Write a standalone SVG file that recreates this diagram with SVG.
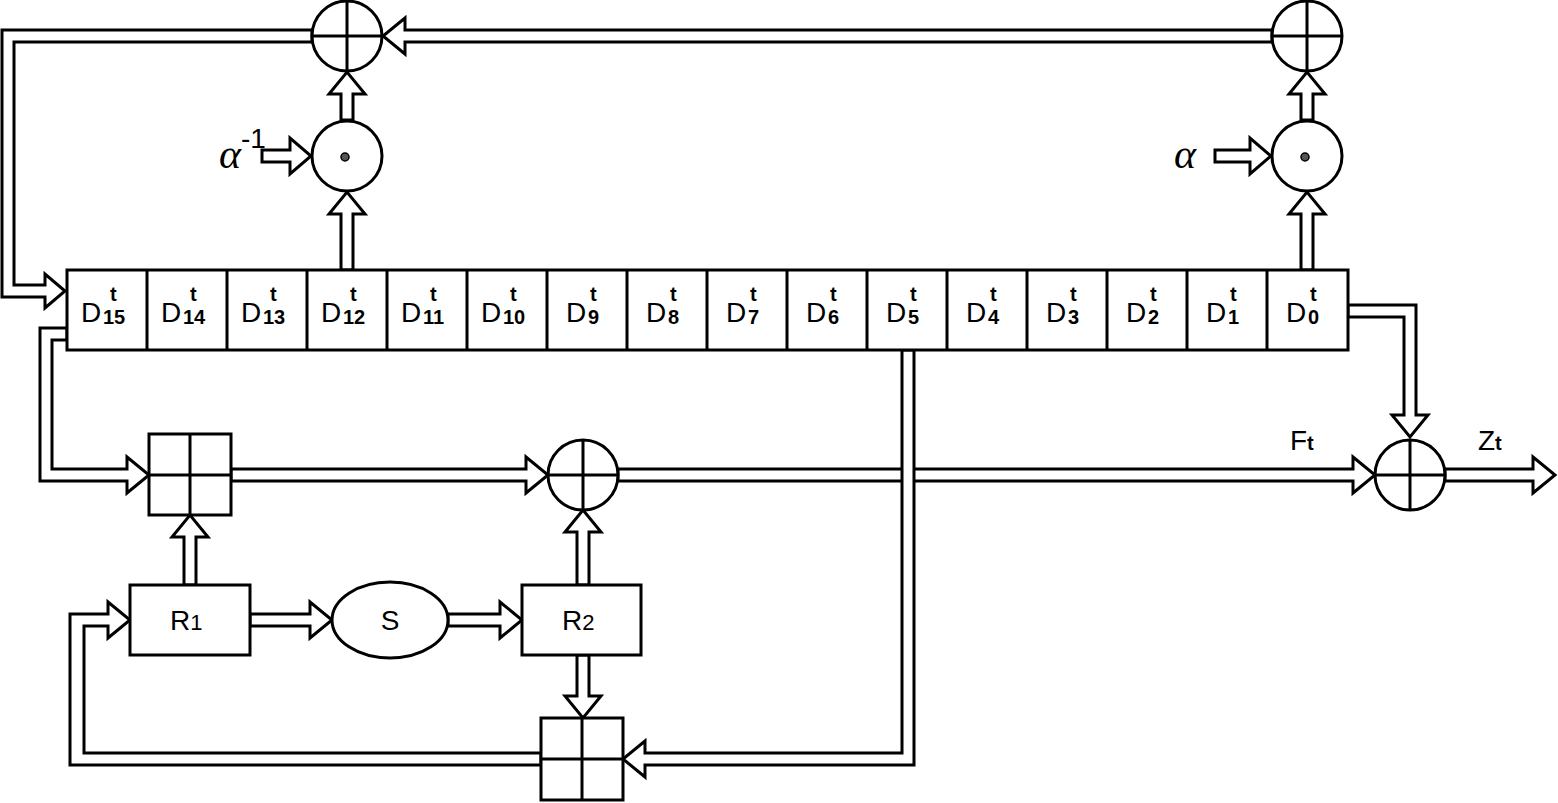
<svg xmlns="http://www.w3.org/2000/svg" width="1558" height="803" viewBox="0 0 1558 803">
<style>
.a{fill:#fff;stroke:#000;stroke-width:3;stroke-linejoin:miter}
.n{fill:#fff;stroke:#000;stroke-width:3}
.l{stroke:#000;stroke-width:3}
.t{font-family:"Liberation Sans",Arial,sans-serif;font-size:28px}
.s{font-size:22px}
.p{font-size:20px;font-weight:bold}
.g{font-family:"Liberation Serif",serif;font-style:italic;font-size:42px}
</style>
<rect width="1558" height="803" fill="#fff"/>
<g id="connectors">
<polygon class="a" points="1272,30 405,30 405,18 383,36 405,54 405,42 1272,42"/>
<polygon class="a" points="312,30 2,30 2,297 45,297 45,308 65,291 45,274 45,285 14,285 14,42 312,42"/>
<polygon class="a" points="341,270 341,214 329,214 347,192 365,214 353,214 353,270"/>
<polygon class="a" points="341,120 341,94 329,94 347,72 365,94 353,94 353,120"/>
<polygon class="a" points="262,150 290,150 290,138 311,156 290,174 290,162 262,162"/>
<polygon class="a" points="1301,270 1301,214 1289,214 1307,192 1325,214 1313,214 1313,270"/>
<polygon class="a" points="1301,120 1301,94 1289,94 1307,72 1325,94 1313,94 1313,120"/>
<polygon class="a" points="1215,150 1250,150 1250,138 1271,156 1250,174 1250,162 1215,162"/>
<polygon class="a" points="1348,305 1416,305 1416,415 1428,415 1410,437 1392,415 1404,415 1404,317 1348,317"/>
<polygon class="a" points="618,469 1353,469 1353,457 1375,475 1353,493 1353,481 618,481"/>
<polygon class="a" points="1445,469 1533,469 1533,457 1555,475 1533,493 1533,481 1445,481"/>
<polygon class="a" points="67,328 40,328 40,481 127,481 127,493 149,475 127,457 127,469 52,469 52,340 67,340"/>
<polygon class="a" points="231,469 526,469 526,457 548,475 526,493 526,481 231,481"/>
<polygon class="a" points="184,585 184,537 172,537 190,515 208,537 196,537 196,585"/>
<polygon class="a" points="577,585 577,532 565,532 583,510 601,532 589,532 589,585"/>
<polygon class="a" points="250,614 310,614 310,602 332,620 310,638 310,626 250,626"/>
<polygon class="a" points="448,614 500,614 500,602 522,620 500,638 500,626 448,626"/>
<polygon class="a" points="577,655 577,696 565,696 583,718 601,696 589,696 589,655"/>
<polygon class="a" points="902,350 902,753 645,753 645,741 623,759 645,777 645,765 914,765 914,350"/>
<polygon class="a" points="541,753 84,753 84,626 108,626 108,638 130,620 108,602 108,614 70,614 70,765 541,765"/>
</g>
<g id="xor-top-left"><circle class="n" cx="347" cy="36" r="35"/><line class="l" x1="312" y1="36" x2="382" y2="36"/><line class="l" x1="347" y1="1" x2="347" y2="71"/></g>
<g id="xor-top-right"><circle class="n" cx="1307" cy="36" r="35"/><line class="l" x1="1272" y1="36" x2="1342" y2="36"/><line class="l" x1="1307" y1="1" x2="1307" y2="71"/></g>
<g id="mul-left"><circle class="n" cx="347" cy="156" r="35"/><circle cx="345" cy="157" r="4" fill="#555" stroke="#000" stroke-width="1.5"/></g>
<g id="mul-right"><circle class="n" cx="1307" cy="156" r="35"/><circle cx="1305" cy="157" r="4" fill="#555" stroke="#000" stroke-width="1.5"/></g>
<g id="alpha-inv"><text class="g" x="219" y="168">α</text><text class="t" x="241" y="148" font-size="22">-1</text></g>
<g id="alpha"><text class="g" x="1174" y="168">α</text></g>
<g id="register">
<rect class="n" x="67" y="270" width="1281" height="80"/>
<g class="l">
<line x1="147" y1="270" x2="147" y2="350"/><line x1="227" y1="270" x2="227" y2="350"/><line x1="307" y1="270" x2="307" y2="350"/><line x1="387" y1="270" x2="387" y2="350"/><line x1="467" y1="270" x2="467" y2="350"/><line x1="547" y1="270" x2="547" y2="350"/><line x1="627" y1="270" x2="627" y2="350"/><line x1="707" y1="270" x2="707" y2="350"/><line x1="787" y1="270" x2="787" y2="350"/><line x1="867" y1="270" x2="867" y2="350"/><line x1="947" y1="270" x2="947" y2="350"/><line x1="1027" y1="270" x2="1027" y2="350"/><line x1="1107" y1="270" x2="1107" y2="350"/><line x1="1187" y1="270" x2="1187" y2="350"/><line x1="1267" y1="270" x2="1267" y2="350"/>
</g>
<g class="t">
<text x="81" y="322">D</text><text class="p" x="103" y="324">15</text><text class="p" x="110" y="301">t</text>
<text x="161" y="322">D</text><text class="p" x="183" y="324">14</text><text class="p" x="190" y="301">t</text>
<text x="241" y="322">D</text><text class="p" x="263" y="324">13</text><text class="p" x="270" y="301">t</text>
<text x="321" y="322">D</text><text class="p" x="343" y="324">12</text><text class="p" x="350" y="301">t</text>
<text x="401" y="322">D</text><text class="p" x="423" y="324">11</text><text class="p" x="430" y="301">t</text>
<text x="481" y="322">D</text><text class="p" x="503" y="324">10</text><text class="p" x="510" y="301">t</text>
<text x="566" y="322">D</text><text class="p" x="588" y="324">9</text><text class="p" x="590" y="301">t</text>
<text x="646" y="322">D</text><text class="p" x="668" y="324">8</text><text class="p" x="670" y="301">t</text>
<text x="726" y="322">D</text><text class="p" x="748" y="324">7</text><text class="p" x="750" y="301">t</text>
<text x="806" y="322">D</text><text class="p" x="828" y="324">6</text><text class="p" x="830" y="301">t</text>
<text x="886" y="322">D</text><text class="p" x="908" y="324">5</text><text class="p" x="910" y="301">t</text>
<text x="966" y="322">D</text><text class="p" x="988" y="324">4</text><text class="p" x="990" y="301">t</text>
<text x="1046" y="322">D</text><text class="p" x="1068" y="324">3</text><text class="p" x="1070" y="301">t</text>
<text x="1126" y="322">D</text><text class="p" x="1148" y="324">2</text><text class="p" x="1150" y="301">t</text>
<text x="1206" y="322">D</text><text class="p" x="1228" y="324">1</text><text class="p" x="1230" y="301">t</text>
<text x="1286" y="322">D</text><text class="p" x="1308" y="324">0</text><text class="p" x="1310" y="301">t</text>
</g>
</g>
<g id="add1"><rect class="n" x="149" y="434" width="82" height="81"/><line class="l" x1="190" y1="434" x2="190" y2="515"/><line class="l" x1="149" y1="475" x2="231" y2="475"/></g>
<g id="xor-mid"><ellipse class="n" cx="583" cy="475" rx="35" ry="35"/><line class="l" x1="548" y1="475" x2="618" y2="475"/><line class="l" x1="583" y1="440" x2="583" y2="510"/></g>
<g id="xor-out"><circle class="n" cx="1410" cy="475" r="35"/><line class="l" x1="1375" y1="475" x2="1445" y2="475"/><line class="l" x1="1410" y1="440" x2="1410" y2="510"/></g>
<g id="ft"><text class="t" x="1290" y="450">F<tspan class="p" dy="0">t</tspan></text></g>
<g id="zt"><text class="t" x="1478" y="450">Z<tspan class="p">t</tspan></text></g>
<g id="r1"><rect class="n" x="130" y="585" width="120" height="70"/><text class="t" x="170" y="630">R<tspan class="s">1</tspan></text></g>
<g id="s"><ellipse class="n" cx="390" cy="620" rx="58" ry="38"/><text class="t" x="390" y="630" text-anchor="middle">S</text></g>
<g id="r2"><rect class="n" x="522" y="585" width="119" height="70"/><text class="t" x="562" y="630">R<tspan class="s">2</tspan></text></g>
<g id="add2"><rect class="n" x="541" y="718" width="82" height="82"/><line class="l" x1="582" y1="718" x2="582" y2="800"/><line class="l" x1="541" y1="759" x2="623" y2="759"/></g>
</svg>
